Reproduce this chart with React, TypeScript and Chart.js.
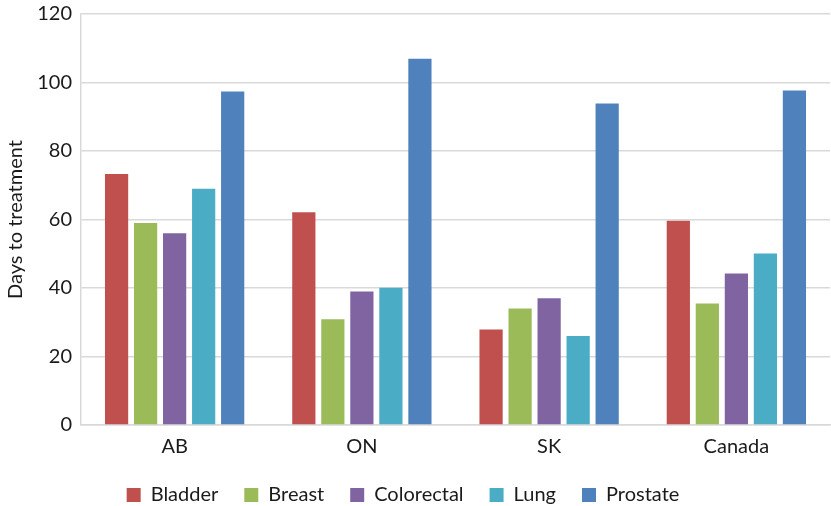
import React, { useEffect, useRef } from "react";
import { Chart, registerables } from "chart.js";

Chart.register(...registerables);

const regions = ["AB", "ON", "SK", "Canada"];
const bladder = [73.3, 62.1, 27.9, 59.6];
const breast = [59.0, 30.9, 34.0, 35.5];
const colorectal = [56.0, 39.0, 37.0, 44.2];
const lung = [69.0, 40.1, 26.0, 50.1];
const prostate = [97.4, 106.9, 93.9, 97.7];

const seriesNames = ["Bladder", "Breast", "Colorectal", "Lung", "Prostate"];
const seriesColors = ["#C0504D", "#9BBB59", "#8064A2", "#4BACC6", "#4F81BD"];

const FONT = "Lato, 'Open Sans', sans-serif";
const FONT_SIZE = 20;
const TEXT = "#1a1a1a";
const GRID = "#d9d9d9";

// Fixed legend band height, and the legend row nudged a little to the left.
const legendBand = {
  id: "legendBand",
  beforeInit(chart: any) {
    const legend = chart.legend;
    if (!legend) return;
    const fit = legend.fit;
    legend.fit = function () {
      fit.call(this);
      this.height = 47;
      if (this.lineWidths && this.lineWidths.length) this.lineWidths[0] += 24;
    };
  },
};

export default function App() {
  const ref = useRef<HTMLCanvasElement | null>(null);

  useEffect(() => {
    document.body.style.margin = "0";
    const values = [bladder, breast, colorectal, lung, prostate];
    const chart = new Chart(ref.current as HTMLCanvasElement, {
      type: "bar",
      data: {
        labels: regions,
        datasets: seriesNames.map((name, i) => ({
          label: name,
          data: values[i],
          backgroundColor: seriesColors[i],
          borderWidth: 0,
          categoryPercentage: 0.775,
          barPercentage: 0.8,
        })),
      },
      plugins: [legendBand],
      options: {
        responsive: false,
        animation: false,
        layout: { padding: { top: 0, right: 1, left: 0, bottom: 0 } },
        plugins: {
          tooltip: { enabled: false },
          legend: {
            position: "bottom",
            labels: {
              font: { family: FONT, size: FONT_SIZE },
              color: TEXT,
              boxWidth: 14,
              boxHeight: 14,
              padding: 26,
            },
          },
        },
        scales: {
          x: {
            grid: { display: false, drawTicks: false },
            border: { color: GRID, width: 1.5 },
            ticks: { font: { family: FONT, size: FONT_SIZE }, color: TEXT, padding: 10 },
            afterFit: (scale: any) => {
              scale.height = 34;
            },
          },
          y: {
            min: 0,
            max: 120,
            grid: { color: GRID, lineWidth: 1.5, drawTicks: false },
            border: { color: GRID, width: 1.5 },
            ticks: {
              stepSize: 20,
              font: { family: FONT, size: FONT_SIZE },
              color: TEXT,
              padding: 9,
            },
            title: {
              display: true,
              text: "Days to treatment",
              font: { family: FONT, size: FONT_SIZE },
              color: TEXT,
              padding: { top: 4, bottom: 4 },
            },
            afterFit: (scale: any) => {
              scale.width = 81;
              scale.paddingTop = 14;
              scale.paddingBottom = 0;
            },
          },
        },
      },
    });
    return () => chart.destroy();
  }, []);

  return (
    <div style={{ position: "fixed", left: 0, top: 0, width: 831, height: 506, background: "#fff" }}>
      <canvas ref={ref} width={831} height={506} />
    </div>
  );
}
